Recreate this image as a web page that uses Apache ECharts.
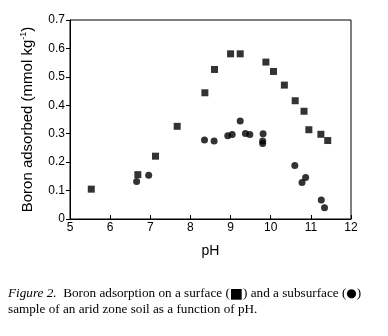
<!DOCTYPE html>
<html><head><meta charset="utf-8">
<script src="https://cdn.jsdelivr.net/npm/echarts@6/dist/echarts.min.js"></script>
<style>html,body{margin:0;padding:0;background:#fff}#c{width:388px;height:336px}</style>
</head><body><div id="c"></div>
<script>
const surfacePH = [5.53,6.69,7.13,7.67,8.36,8.60,9.00,9.24,9.88,10.07,10.34,10.61,10.83,10.95,11.25,11.42];
const surfaceB  = [0.105,0.156,0.221,0.326,0.444,0.526,0.581,0.581,0.552,0.519,0.471,0.416,0.379,0.314,0.298,0.276];
const subsurfPH = [6.66,6.96,8.35,8.59,8.93,9.04,9.24,9.37,9.48,9.81,9.80,9.80,10.60,10.78,10.87,11.26,11.34];
const subsurfB  = [0.132,0.154,0.278,0.274,0.293,0.297,0.345,0.301,0.297,0.300,0.274,0.266,0.188,0.128,0.146,0.067,0.040];
const xTicks = [5,6,7,8,9,10,11,12];
const yTicks = [0,0.1,0.2,0.3,0.4,0.5,0.6,0.7];

const chart = echarts.init(document.getElementById('c'));
const sans = 'Liberation Sans, Arial, sans-serif';
const serif = 'Liberation Serif, Times New Roman, serif';
const axisFont = {fontFamily:sans, fontSize:12, color:'#000'};
chart.setOption({
  animation:false,
  grid:{left:70,right:37,top:20,bottom:117,show:true,borderColor:'#000',borderWidth:1},
  xAxis:{type:'value',min:xTicks[0],max:xTicks[xTicks.length-1],interval:1,
    name:'pH',nameLocation:'middle',nameGap:25,
    nameTextStyle:{fontFamily:sans,fontSize:14,color:'#000'},
    axisLine:{lineStyle:{color:'#000'}},axisTick:{inside:true,length:4,lineStyle:{color:'#000'}},
    axisLabel:Object.assign({margin:3},axisFont),splitLine:{show:false}},
  yAxis:{type:'value',min:yTicks[0],max:yTicks[yTicks.length-1],interval:0.1,
    name:'{a|Boron adsorbed (mmol kg}{s|-1}{a|)}',nameLocation:'middle',nameGap:33,nameRotate:90,
    nameTextStyle:{rich:{a:{fontFamily:sans,fontSize:15,color:'#000'},
      s:{fontFamily:sans,fontSize:9,color:'#000',verticalAlign:'top',padding:[0,0,9,0]}}},
    axisLine:{lineStyle:{color:'#000'}},axisTick:{length:4,lineStyle:{color:'#000'}},
    axisLabel:Object.assign({margin:5,formatter:v=>v===0?'0':v.toFixed(1)},axisFont),splitLine:{show:false}},
  series:[
    {type:'scatter',symbol:'rect',symbolSize:7,itemStyle:{color:'#000'},
     data:surfacePH.map((x,i)=>[x,surfaceB[i]])},
    {type:'scatter',symbol:'circle',symbolSize:7,itemStyle:{color:'#000'},
     data:subsurfPH.map((x,i)=>[x,subsurfB[i]])}
  ],
  graphic:[
    {type:'text',left:8,top:287,style:{
      text:'{i|Figure 2.}{r|  Boron adsorption on a surface (}{b|\u25A0}{r|) and a subsurface (}{c|\u25CF}{r|)}',
      rich:{i:{fontFamily:serif,fontStyle:'italic',fontSize:13.2,fill:'#000'},
            r:{fontFamily:serif,fontSize:13.2,fill:'#000'},
            b:{fontFamily:'DejaVu Sans, sans-serif',fontSize:14,fill:'#000'},
            c:{fontFamily:'DejaVu Sans, sans-serif',fontSize:12,fill:'#000'}}}},
    {type:'text',left:8,top:303,style:{text:'sample of an arid zone soil as a function of pH.',
      font:'13.2px "Liberation Serif", "Times New Roman", serif',fill:'#000'}}
  ]
});
</script></body></html>
